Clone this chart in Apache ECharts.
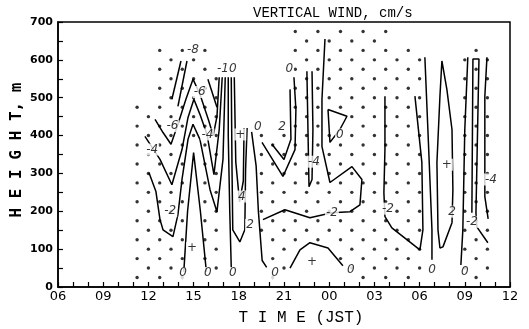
<!DOCTYPE html>
<html>
<head>
<meta charset="utf-8">
<script src="https://cdn.jsdelivr.net/npm/echarts@6/dist/echarts.min.js"></script>
<style>
  html, body { margin: 0; background: #fff; }
  #chart { width: 529px; height: 329px; }
</style>
</head>
<body>
<div id="chart"></div>
<script>
// time in hours from 00 JST of day 1 (24+ = next day), height in m
const xTicks = [6, 9, 12, 15, 18, 21, 24, 27, 30, 33, 36];
const yTicks = [0, 100, 200, 300, 400, 500, 600, 700];

// stippled (downward) area: staggered dot lattice
const dotRowStep = 25;
const dotRowMax = 675;
const dotColStep = 1.5;
const dotColStartOdd = 11.25;
const dotColStartEven = 12.0;
const dotColEnd = 34.6;
// [from h, to h, top height]
const dotTop = [
  [11.2, 12.5, 475], [12.5, 16.2, 625], [16.2, 16.6, 550],
  [19.1, 21.6, 410], [21.6, 27.9, 675], [27.9, 29.4, 625],
  [29.4, 33.2, 600], [33.2, 34.6, 625]
];
// areas with no dots (upward wind)
const dotHoles = [
  [[14.3, 0], [15.0, 360], [15.9, 0]],
  [[17.0, 0], [17.0, 700], [19.05, 700], [19.1, 420], [19.35, 200], [19.8, 0]],
  [[30.6, 0], [30.6, 700], [32.65, 700], [32.65, 0]],
  [[21.3, 0], [21.5, 60], [22.1, 110], [22.7, 125], [23.9, 110], [25.1, 55], [25.3, 0]],
  [[23.9, 470], [25.2, 452], [24.7, 415], [24.05, 380]]
];

// isolines, cm/s
const contours = [
  [[12.44, 443], [12.97, 408], [13.5, 377], [13.96, 430], [14.49, 496], [14.96, 549], [15.42, 509], [16.0, 440], [16.3, 400], [16.55, 450], [16.7, 554]],
  [[11.77, 398], [12.77, 337], [13.56, 270], [14.23, 363], [14.63, 448], [15.02, 496], [15.42, 456], [15.89, 403], [16.35, 297], [16.7, 416], [16.9, 554]],
  [[12.04, 302], [12.5, 252], [12.77, 178], [12.97, 151], [13.63, 133], [13.96, 191], [14.23, 284], [14.63, 390], [14.96, 430], [15.42, 390], [16.09, 257], [16.55, 199], [16.95, 337], [17.1, 554]],
  [[14.35, 40], [14.6, 200], [15.0, 355], [15.45, 200], [15.85, 40]],
  [[13.56, 496], [14.16, 597]],
  [[13.96, 477], [14.56, 597]],
  [[15.95, 549], [16.55, 475]],
  [[17.3, 554], [17.3, 400], [17.4, 200], [17.5, 50]],
  [[17.5, 554], [17.55, 310], [17.6, 151], [18.07, 119], [18.4, 151], [18.45, 310], [18.55, 420]],
  [[17.7, 554], [17.8, 330], [18.05, 225], [18.3, 280], [18.35, 420]],
  [[18.85, 410], [19.15, 320], [19.3, 200], [19.55, 70], [19.85, 52]],
  [[23.72, 655], [23.52, 496], [23.52, 371], [24.05, 276], [25.51, 318], [26.17, 284], [26.04, 217], [25.38, 199], [24.18, 196], [22.72, 183], [21.06, 204], [19.6, 178]],
  [[22.52, 570], [22.59, 416], [22.66, 265], [22.86, 284], [22.92, 416], [22.86, 570]],
  [[23.92, 469], [25.18, 451], [24.71, 416], [24.05, 382], [23.92, 469]],
  [[19.54, 382], [20.93, 292], [21.73, 363], [21.79, 469], [21.66, 554]],
  [[20.2, 377], [21.0, 337], [21.46, 390], [21.4, 522]],
  [[21.4, 50], [22.06, 98], [22.72, 117], [23.92, 103], [24.91, 56]],
  [[27.7, 504], [27.7, 363], [27.63, 249], [27.7, 186], [28.16, 156], [30.02, 98], [30.22, 151], [30.15, 329], [29.69, 504]],
  [[30.35, 607], [30.55, 416], [30.82, 151], [30.82, 72]],
  [[31.48, 597], [31.81, 522], [32.15, 416], [32.21, 257], [32.15, 170], [31.55, 106], [31.35, 103], [31.22, 151], [31.15, 329], [31.35, 504], [31.48, 597]],
  [[33.2, 607], [33.0, 416], [32.87, 151], [32.74, 58]],
  [[33.47, 196], [33.54, 602], [33.94, 602], [33.74, 196], [33.8, 159], [34.53, 117]],
  [[34.47, 607], [34.33, 504], [34.33, 239], [34.55, 180]]
];

const contourLabels = [
  [14.96, 626, '-8'], [17.2, 575, '-10'], [15.4, 515, '-6'], [13.6, 425, '-6'],
  [12.25, 363, '-4'], [15.92, 403, '-4'], [19.27, 424, '0'], [18.1, 403, '+'],
  [18.2, 239, '4'], [18.74, 164, '2'], [13.45, 200, '-2'], [14.9, 103, '+'],
  [14.3, 37, '0'], [15.95, 37, '0'], [17.6, 37, '0'], [20.4, 37, '0'],
  [20.87, 422, '2'], [21.35, 575, '0'], [22.99, 331, '-4'], [24.71, 403, '0'],
  [24.18, 196, '-2'], [22.86, 66, '+'], [25.44, 45, '0'], [27.9, 207, '-2'],
  [31.81, 323, '+'], [32.15, 199, '2'], [30.82, 45, '0'], [33.0, 40, '0'],
  [33.47, 172, '-2'], [34.73, 284, '-4']
];

function inPoly(p, poly) {
  let inside = false;
  for (let i = 0, j = poly.length - 1; i < poly.length; j = i++) {
    const xi = poly[i][0], yi = poly[i][1], xj = poly[j][0], yj = poly[j][1];
    if ((yi > p[1]) !== (yj > p[1]) && p[0] < (xj - xi) * (p[1] - yi) / (yj - yi) + xi) inside = !inside;
  }
  return inside;
}

const dots = [];
for (let r = 1; r * dotRowStep <= dotRowMax; r++) {
  const m = r * dotRowStep;
  for (let h = r % 2 ? dotColStartOdd : dotColStartEven; h <= dotColEnd; h += dotColStep) {
    const band = dotTop.find(b => h >= b[0] && h < b[1]);
    if (!band || m > band[2]) continue;
    if (dotHoles.some(poly => inPoly([h, m], poly))) continue;
    dots.push([h, m]);
  }
}

const pad = v => String(v % 24).padStart(2, '0');
const chart = echarts.init(document.getElementById('chart'));

const series = [{
  type: 'scatter', data: dots, symbolSize: 3.4, silent: true, z: 2,
  itemStyle: { color: '#000' }
}];
contours.forEach(pts => series.push({
  type: 'line', data: pts, showSymbol: false, silent: true, z: 3,
  lineStyle: { color: '#000', width: 1.5 }
}));
series.push({
  type: 'scatter', symbolSize: 0, silent: true, z: 5,
  data: contourLabels.map(d => ({ value: [d[0], d[1]], name: d[2] })),
  label: {
    show: true, position: 'inside', formatter: '{b}',
    fontFamily: 'DejaVu Sans', fontStyle: 'italic', fontSize: 12, color: '#000',
    backgroundColor: '#fff', padding: [0, 1]
  }
});

chart.setOption({
  animation: false,
  backgroundColor: '#fff',
  grid: { left: 58, right: 19, top: 22, bottom: 42, show: true, borderColor: '#000', borderWidth: 1.5 },
  xAxis: {
    type: 'value', min: xTicks[0], max: xTicks[xTicks.length - 1], interval: 3,
    axisLine: { lineStyle: { color: '#000', width: 1.5 } },
    axisTick: { inside: true, length: 5, lineStyle: { color: '#000', width: 1.2 } },
    minorTick: { show: true, splitNumber: 3, length: 5, lineStyle: { color: '#000', width: 1.2 } },
    splitLine: { show: false },
    axisLabel: { formatter: pad, margin: 3, fontFamily: 'DejaVu Sans', fontSize: 13, color: '#000' }
  },
  yAxis: {
    type: 'value', min: yTicks[0], max: yTicks[yTicks.length - 1], interval: 100,
    axisLine: { lineStyle: { color: '#000', width: 1.5 } },
    axisTick: { inside: true, length: 5, lineStyle: { color: '#000', width: 1.2 } },
    minorTick: { show: true, splitNumber: 2, length: 5, lineStyle: { color: '#000', width: 1.2 } },
    splitLine: { show: false },
    axisLabel: { margin: 5, fontFamily: 'DejaVu Sans', fontWeight: 'bold', fontSize: 11, color: '#000' }
  },
  graphic: [
    { type: 'text', left: 253, top: 6, style: { text: 'VERTICAL WIND, cm/s', font: '14px "Liberation Mono"', fill: '#000' } },
    { type: 'text', x: 301, y: 318, style: { text: 'T I M E (JST)', font: '16px "Liberation Mono"', fill: '#000', align: 'center', verticalAlign: 'middle' } },
    { type: 'text', x: 17, y: 150, rotation: Math.PI / 2, style: { text: 'H E I G H T, m', font: 'bold 16px "DejaVu Sans Mono"', fill: '#000', align: 'center', verticalAlign: 'middle' } }
  ],
  series: series
});
</script>
</body>
</html>
